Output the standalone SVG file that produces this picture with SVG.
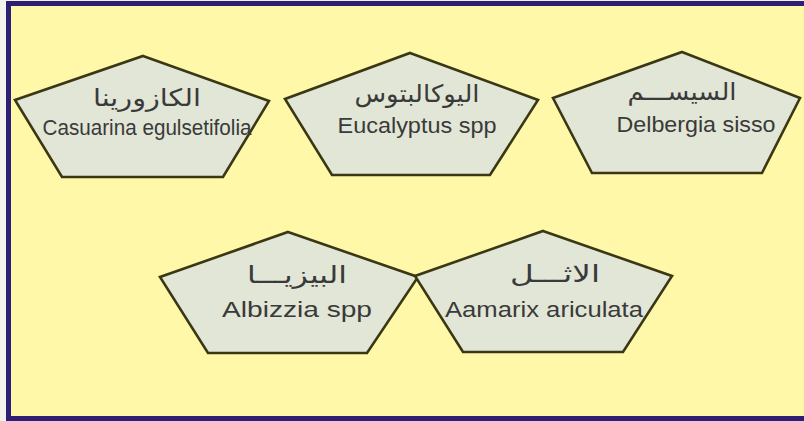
<svg xmlns="http://www.w3.org/2000/svg" width="804" height="421" viewBox="0 0 804 421">
<style>
.pent{fill:#E2E6D6;stroke:#3A3814;stroke-width:2.6;stroke-linejoin:miter}
.ar{font-family:"DejaVu Sans","Noto Sans",sans-serif;font-size:24px;fill:#3a3a3a;text-anchor:middle}
.la{font-family:"Liberation Sans","DejaVu Sans",sans-serif;font-size:22px;fill:#3a3a3a;text-anchor:middle}
</style>
<rect x="0" y="0" width="804" height="421" fill="#F4F2EC"/>
<rect x="8.5" y="3.5" width="810" height="415" fill="#FFF8A8" stroke="#2D1F74" stroke-width="5"/>
<g id="node-casuarina">
<polygon class="pent" points="143,56 269,101 223,177 62,177 15,100"/>
<text class="ar" x="147" y="106" textLength="108" lengthAdjust="spacingAndGlyphs">الكازورينا</text>
<text class="la" x="147" y="135" textLength="209" lengthAdjust="spacingAndGlyphs">Casuarina egulsetifolia</text>
</g>
<g id="node-eucalyptus">
<polygon class="pent" points="410,53 538,100 490,175 332,175 285,99"/>
<text class="ar" x="417" y="102" textLength="125" lengthAdjust="spacingAndGlyphs">اليوكالبتوس</text>
<text class="la" x="417" y="133" textLength="159" lengthAdjust="spacingAndGlyphs">Eucalyptus spp</text>
</g>
<g id="node-delbergia">
<polygon class="pent" points="682,52 800,98 762,173 592,173 553,98"/>
<text class="ar" x="682" y="100" textLength="109" lengthAdjust="spacingAndGlyphs">السيســـم</text>
<text class="la" x="696" y="132" textLength="159" lengthAdjust="spacingAndGlyphs">Delbergia sisso</text>
</g>
<g id="node-albizzia">
<polygon class="pent" points="288,232 418,277 367,353 208,353 160,277"/>
<text class="ar" x="297" y="283" textLength="100" lengthAdjust="spacingAndGlyphs">البيزيـــا</text>
<text class="la" x="297" y="317" textLength="150" lengthAdjust="spacingAndGlyphs">Albizzia spp</text>
</g>
<g id="node-aamarix">
<polygon class="pent" points="543,231 672,276 623,352 463,352 415,276"/>
<text class="ar" x="555" y="282" textLength="90" lengthAdjust="spacingAndGlyphs">الاثـــل</text>
<text class="la" x="544" y="317" textLength="198" lengthAdjust="spacingAndGlyphs">Aamarix ariculata</text>
</g>
</svg>
